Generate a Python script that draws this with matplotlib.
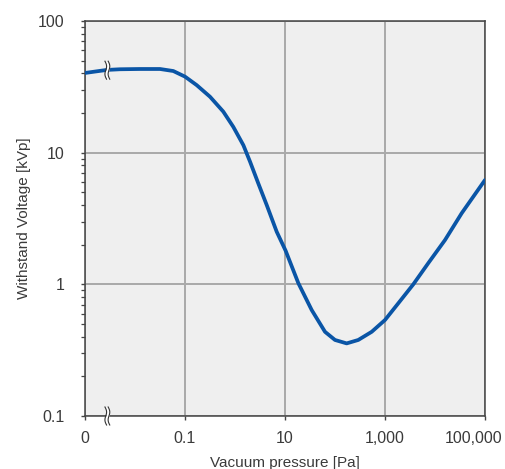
import numpy as np
import matplotlib.pyplot as plt
import matplotlib.transforms as transforms
from matplotlib.ticker import FixedLocator, NullLocator, LogLocator, NullFormatter

plt.rcParams['font.family'] = ['Liberation Sans', 'DejaVu Sans']

# Data (pressure in Pa, withstand voltage in kVp)
pressure = [0.001, 0.00166, 0.00275, 0.005, 0.0126, 0.0316, 0.0583, 0.1, 0.171,
            0.316, 0.583, 0.925, 1.47, 2.0, 2.92, 4.31, 6.82, 10.3, 18.5, 34.2,
            63.1, 100, 171, 292, 542, 1000, 1845, 3680, 7350, 15850, 34200,
            100000]
voltage = [40.3, 41.4, 42.5, 43.0, 43.2, 43.2, 41.7, 37.8, 32.6,
           26.6, 20.5, 15.7, 11.4, 8.54, 5.85, 4.0, 2.51, 1.8, 1.02, 0.638,
           0.436, 0.378, 0.356, 0.378, 0.436, 0.536, 0.718, 1.0, 1.45, 2.17, 3.47,
           6.2]

x_ticks = [0.001, 0.1, 10, 1000, 100000]
x_labels = ["0", "0.1", "10", "1,000", "100,000"]
y_ticks = [0.1, 1, 10, 100]
y_labels = ["0.1", "1", "10", "100"]

text_color = "#3a3a3a"
spine_color = "#444444"

fig = plt.figure(figsize=(5.06, 4.69), dpi=100)
ax = fig.add_axes([85 / 506, 53 / 469, 400 / 506, 395 / 469])
ax.set_facecolor("#efefef")

ax.set_xscale("log")
ax.set_yscale("log")
ax.set_xlim(0.001, 100000)
ax.set_ylim(0.1, 100)

ax.plot(pressure, voltage, color="#0a55a6", lw=2.7, solid_capstyle="round",
        solid_joinstyle="round", zorder=3)

ax.xaxis.set_major_locator(FixedLocator(x_ticks))
ax.set_xticklabels(x_labels)
ax.xaxis.set_minor_locator(NullLocator())
ax.yaxis.set_major_locator(FixedLocator(y_ticks))
ax.set_yticklabels(y_labels)
ax.yaxis.set_minor_locator(LogLocator(base=10, subs=np.arange(2, 10)))
ax.yaxis.set_minor_formatter(NullFormatter())

ax.grid(True, which="major", color="#a9a9a9", lw=1.4, zorder=1)
ax.set_axisbelow(True)

for s in ax.spines.values():
    s.set_color(spine_color)
    s.set_linewidth(1.1)

ax.tick_params(axis="both", which="major", length=3, width=1, color=spine_color,
               labelsize=11.5, labelcolor=text_color)
ax.tick_params(axis="y", which="major", pad=12)
ax.tick_params(axis="x", which="major", pad=8)
ax.tick_params(axis="y", which="minor", length=3, width=0.9, color=spine_color)

# last x label sits a little left of its tick so it stays inside the figure
last = ax.get_xticklabels()[-1]
last.set_transform(last.get_transform() +
                   transforms.ScaledTranslation(-0.11, 0, fig.dpi_scale_trans))

ax.set_xlabel("Vacuum pressure [Pa]", fontsize=11, color=text_color, labelpad=7)
ax.set_ylabel("Withstand Voltage [kVp]", fontsize=11, color=text_color, labelpad=5)


def draw_break(xd, yd):
    # two small wavy strokes with a white gap, placed in inches around a data point
    trans = fig.dpi_scale_trans + transforms.ScaledTranslation(xd, yd, ax.transData)
    t = np.linspace(-1, 1, 40)
    yy = 0.09 * t
    wave = 0.012 * np.sin(np.pi * t) - 0.008 * t
    left = wave - 0.016
    right = wave + 0.016
    ax.fill_betweenx(yy, left, right, color="white", transform=trans, zorder=5,
                     clip_on=False, lw=0)
    ax.plot(left, yy, color="#333333", lw=0.8, transform=trans, zorder=6, clip_on=False)
    ax.plot(right, yy, color="#333333", lw=0.8, transform=trans, zorder=6, clip_on=False)


draw_break(0.0028, 42.3)
draw_break(0.0028, 0.1)

fig.savefig("out.png", dpi=100)
